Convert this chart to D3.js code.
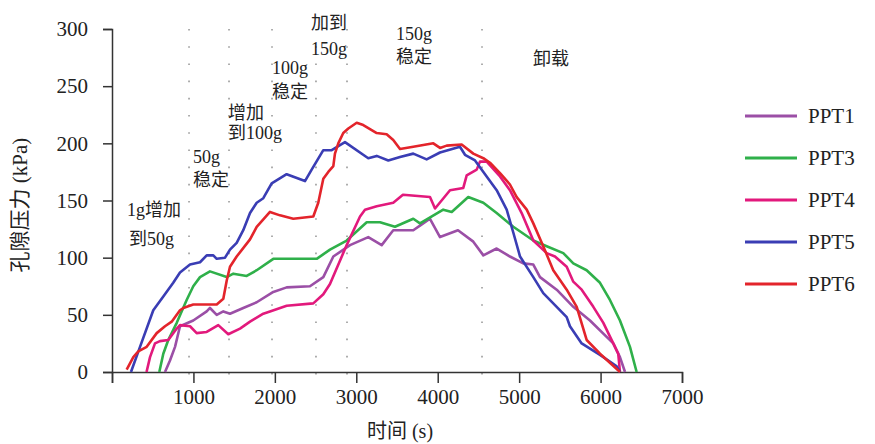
<!DOCTYPE html>
<html>
<head>
<meta charset="utf-8">
<script src="https://cdn.jsdelivr.net/npm/d3@7/dist/d3.min.js"></script>
<style>
  html, body { margin: 0; padding: 0; background: #fff; }
  svg { display: block; }
</style>
</head>
<body>
<svg id="chart" width="875" height="444"></svg>
<script>
// Pore pressure (kPa) versus time (s) for five transducers
const seriesNames = ["PPT1", "PPT3", "PPT4", "PPT5", "PPT6"];
const seriesColors = ["#9b4fa6", "#2fb04a", "#e2197c", "#3a3db4", "#e3242b"];

const ppt1 = [[651,0],[712,10],[774,22],[835,40],[998,45],[1163,53],[1203,56],[1286,50],[1367,53],[1449,51],[1612,56],[1777,61],[1981,70],[2145,74],[2431,75],[2595,83],[2718,101],[2923,111],[3147,118],[3312,111],[3454,124],[3700,124],[3782,128],[3905,134],[4028,118],[4249,124],[4437,114],[4560,102],[4724,108],[4887,101],[5051,95],[5174,94],[5256,83],[5461,72],[5665,57],[5870,45],[6156,25],[6238,13],[6300,0]];
const ppt3 = [[581,0],[630,16],[691,28],[795,43],[917,63],[998,75],[1081,83],[1203,88],[1409,83],[1490,86],[1654,84],[1777,89],[1981,99],[2514,99],[2677,107],[2882,115],[3128,131],[3291,131],[3475,127],[3700,134],[3782,130],[4068,142],[4172,140],[4375,153],[4560,148],[4724,139],[4928,127],[5174,115],[5338,110],[5542,104],[5665,95],[5829,89],[5993,78],[6115,63],[6238,45],[6361,22],[6443,0]];
const ppt4 = [[424,0],[467,13],[528,25],[589,27],[691,28],[795,38],[835,41],[958,40],[1040,34],[1163,35],[1305,41],[1428,33],[1572,38],[1695,44],[1858,51],[1940,53],[2145,58],[2472,60],[2595,68],[2677,77],[2882,111],[3046,136],[3107,142],[3251,145],[3454,148],[3573,155],[3905,153],[3967,143],[4151,159],[4314,161],[4356,172],[4479,177],[4519,184],[4601,184],[4765,171],[4887,159],[5031,139],[5174,115],[5338,104],[5440,101],[5584,92],[5665,79],[5768,72],[5911,57],[6034,43],[6156,25],[6217,16],[6238,0]];
const ppt5 = [[233,0],[344,22],[507,54],[630,66],[752,78],[835,87],[958,94],[1081,96],[1163,102],[1244,102],[1286,99],[1388,100],[1449,107],[1531,113],[1612,124],[1695,139],[1777,148],[1858,152],[1961,165],[2145,173],[2370,167],[2452,177],[2595,194],[2698,194],[2861,201],[3147,187],[3251,189],[3393,185],[3537,188],[3700,191],[3864,186],[4028,192],[4273,197],[4335,190],[4458,185],[4601,171],[4724,159],[4847,142],[4928,122],[5011,101],[5174,83],[5296,69],[5461,57],[5584,48],[5624,40],[5768,25],[5993,15],[6198,5],[6239,0]];
const ppt6 = [[180,2],[262,13],[323,18],[426,22],[549,34],[651,40],[733,44],[835,54],[876,56],[998,59],[1286,59],[1367,64],[1409,80],[1449,92],[1531,101],[1695,116],[1777,127],[1940,140],[2063,137],[2226,134],[2472,136],[2533,148],[2595,169],[2656,175],[2718,180],[2738,191],[2779,200],[2840,209],[2902,213],[3005,218],[3086,216],[3251,209],[3373,208],[3454,203],[3537,195],[3700,197],[3946,200],[4028,196],[4110,198],[4294,199],[4437,191],[4560,187],[4642,183],[4765,174],[4887,164],[4970,153],[5093,142],[5174,130],[5296,110],[5419,89],[5584,72],[5707,57],[5829,28],[5993,16],[6239,0]];
const seriesValues = [ppt1, ppt3, ppt4, ppt5, ppt6];

const xTicks = [0, 1000, 2000, 3000, 4000, 5000, 6000, 7000];
const yTicks = [0, 50, 100, 150, 200, 250, 300];

// Loading-stage boundaries (s)
const stageLines = [946, 1437, 1965, 2505, 2886, 4544];
// Stage notes: text lines and anchor (time, kPa) of each line's left edge
const stageText = [
  ["1g增加", 184, 141.7], ["到50g", 209, 116.3],
  ["50g", 995, 188], ["稳定", 995, 168],
  ["增加", 1424, 226.5], ["到100g", 1424, 209],
  ["100g", 1965, 266], ["稳定", 1965, 245],
  ["加到", 2444, 305], ["150g", 2444, 282.5],
  ["150g", 3488, 295.6], ["稳定", 3488, 275.5],
  ["卸载", 5170, 274]
];

const LATIN = "Liberation Serif";
const SERIF = "Liberation Serif, Noto Sans CJK SC";

const svg = d3.select("#chart");
const x = d3.scaleLinear().domain([0, 7000]).range([112, 682]);
const y = d3.scaleLinear().domain([0, 300]).range([372, 29]);

// dotted stage boundaries
svg.append("g").selectAll("line").data(stageLines).join("line")
  .attr("x1", d => x(d)).attr("x2", d => x(d))
  .attr("y1", y(300)).attr("y2", y(0) + 16)
  .attr("stroke", "#9a9a9a").attr("stroke-width", 1.6)
  .attr("stroke-dasharray", "1.6 15.6");

// axes
const xAxis = svg.append("g").attr("transform", `translate(0,${y(0)})`)
  .call(d3.axisBottom(x).tickValues(xTicks).tickSize(11).tickPadding(6)
    .tickFormat(d => d === 0 ? "" : d));
const yAxis = svg.append("g").attr("transform", `translate(${x(0)},0)`)
  .call(d3.axisLeft(y).tickValues(yTicks).tickSize(9).tickPadding(15));
[xAxis, yAxis].forEach(g => {
  g.attr("font-family", LATIN).attr("font-size", 21);
  g.select(".domain").attr("stroke", "#333").attr("stroke-width", 1.5);
  g.selectAll(".tick line").attr("stroke", "#333").attr("stroke-width", 1.5);
  g.selectAll(".tick text").attr("fill", "#222");
});

// curves
const line = d3.line().x(d => x(d[0])).y(d => y(d[1]));
svg.append("g").selectAll("path").data(seriesValues).join("path")
  .attr("d", line).attr("fill", "none")
  .attr("stroke", (d, i) => seriesColors[i])
  .attr("stroke-width", 2.6).attr("stroke-linejoin", "round");

// stage notes
svg.append("g").attr("font-family", SERIF).attr("font-size", 18).attr("fill", "#222")
  .selectAll("text").data(stageText).join("text")
  .attr("x", d => x(d[1])).attr("y", d => y(d[2]))
  .attr("dominant-baseline", "central")
  .text(d => d[0]);

// axis titles
svg.append("text").attr("x", 400).attr("y", 431)
  .attr("text-anchor", "middle").attr("dominant-baseline", "central")
  .attr("font-family", SERIF).attr("font-size", 20).attr("fill", "#222")
  .text("时间 (s)");
svg.append("text")
  .attr("transform", "translate(20,205) rotate(-90)")
  .attr("text-anchor", "middle").attr("dominant-baseline", "central")
  .attr("font-family", SERIF).attr("font-size", 21).attr("fill", "#222")
  .text("孔隙压力 (kPa)");

// legend
const legend = svg.append("g").attr("font-family", LATIN).attr("font-size", 21)
  .selectAll("g").data(seriesNames).join("g")
  .attr("transform", (d, i) => `translate(745,${116 + i * 42})`);
legend.append("line").attr("x1", 0).attr("x2", 52)
  .attr("stroke", (d, i) => seriesColors[i]).attr("stroke-width", 3);
legend.append("text").attr("x", 63).attr("dominant-baseline", "central")
  .attr("fill", "#222")
  .text(d => d);
</script>
</body>
</html>
